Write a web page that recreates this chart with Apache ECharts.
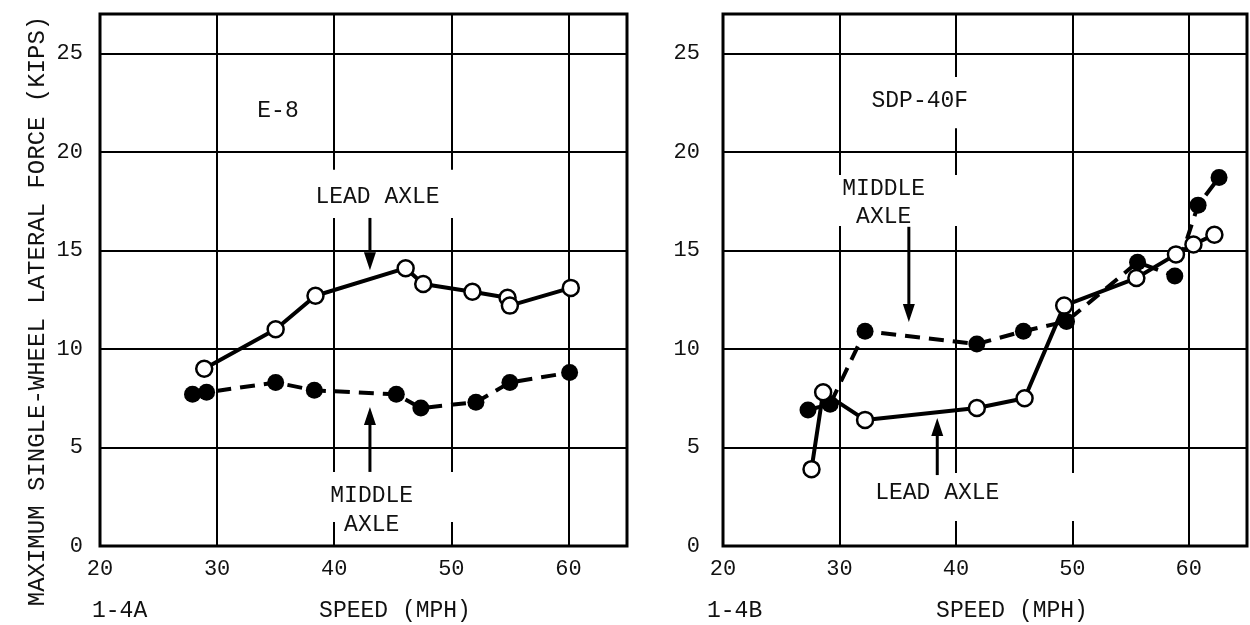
<!DOCTYPE html>
<html>
<head>
<meta charset="utf-8">
<style>
  html, body { margin: 0; padding: 0; background: #fff; }
  #chart { width: 1250px; height: 625px; }
</style>
<script src="https://cdn.jsdelivr.net/npm/echarts@6/dist/echarts.min.js"></script>
</head>
<body>
<div id="chart"></div>
<script>
// speed (mph), force (kips)
const e8Lead = [[28.9, 9.0], [35.0, 11.0], [38.4, 12.7], [46.1, 14.1], [47.6, 13.3], [51.8, 12.9], [54.8, 12.6], [55.0, 12.2], [60.2, 13.1]]
const e8Middle = [[27.9, 7.7], [29.1, 7.8], [35.0, 8.3], [38.3, 7.9], [45.3, 7.7], [47.4, 7.0], [52.1, 7.3], [55.0, 8.3], [60.1, 8.8]]
const sdpLead = [[27.6, 3.9], [28.6, 7.8], [32.2, 6.4], [41.8, 7.0], [45.9, 7.5], [49.3, 12.2], [55.5, 13.6], [58.9, 14.8], [60.4, 15.3], [62.2, 15.8]]
const sdpMiddle = [[27.3, 6.9], [29.2, 7.2], [32.2, 10.9], [41.8, 10.25], [45.8, 10.9], [49.5, 11.4], [55.6, 14.4], [58.8, 13.7], [60.8, 17.3], [62.6, 18.7]]

const speedTicks = [20, 65, 10]   // min, max, interval
const forceTicks = [0, 27, 5]

// notes in data units of each panel
const notesA = [
  { text: 'E-8', at: [35.2, 22.1] },
  { text: 'LEAD AXLE', at: [43.7, 17.7], box: [[38.0, 19.1], [50.8, 16.65]] },
  { text: 'MIDDLE', at: [43.2, 2.54], box: [[38.4, 3.76], [50.8, 1.22]] },
  { text: 'AXLE', at: [43.2, 1.07] },
]
const arrowsA = [
  { from: [43.05, 16.65], to: [43.05, 14.0] },
  { from: [43.05, 3.76], to: [43.05, 7.06] },
]
const notesB = [
  { text: 'SDP-40F', at: [36.9, 22.6], box: [[32.2, 23.8], [41.7, 21.2]] },
  { text: 'MIDDLE', at: [33.8, 18.1], box: [[29.1, 18.83], [40.6, 16.24]] },
  { text: 'AXLE', at: [33.8, 16.7] },
  { text: 'LEAD AXLE', at: [38.4, 2.69], box: [[31.9, 3.7], [50.9, 1.27]] },
]
const arrowsB = [
  { from: [35.96, 16.2], to: [35.96, 11.37] },
  { from: [38.4, 3.6], to: [38.4, 6.5] },
]

const FONT = 'Liberation Mono'
const chart = echarts.init(document.getElementById('chart'))

function xAxisOf(i) {
  return {
    type: 'value', gridIndex: i,
    min: speedTicks[0], max: speedTicks[1], interval: speedTicks[2],
    axisLine: { show: false }, axisTick: { show: false },
    axisLabel: { color: '#111', fontFamily: FONT, fontSize: 22, margin: 12, showMaxLabel: false },
    splitLine: { lineStyle: { color: '#000', width: 2 } },
  }
}
function yAxisOf(i, margin) {
  return {
    type: 'value', gridIndex: i,
    min: forceTicks[0], max: forceTicks[1], interval: forceTicks[2],
    axisLine: { show: false }, axisTick: { show: false },
    axisLabel: { color: '#111', fontFamily: FONT, fontSize: 22, margin: margin, showMaxLabel: false },
    splitLine: { lineStyle: { color: '#000', width: 2 } },
  }
}
function leadSeries(i, data) {
  return {
    type: 'line', xAxisIndex: i, yAxisIndex: i, data: data,
    symbol: 'circle', symbolSize: 16,
    lineStyle: { color: '#000', width: 4 },
    itemStyle: { color: '#fff', borderColor: '#000', borderWidth: 2.5 },
    z: 4,
  }
}
function middleSeries(i, data) {
  return {
    type: 'line', xAxisIndex: i, yAxisIndex: i, data: data,
    symbol: 'circle', symbolSize: 17,
    lineStyle: { color: '#000', width: 4, type: [15, 9] },
    itemStyle: { color: '#000' },
    z: 3,
  }
}

let option = {
  backgroundColor: '#fff',
  animation: false,
  grid: [
    { left: 100, right: 623, top: 14, bottom: 79, show: true, borderColor: '#000', borderWidth: 3 },
    { left: 723, right: 3, top: 14, bottom: 79, show: true, borderColor: '#000', borderWidth: 3 },
  ],
  xAxis: [xAxisOf(0), xAxisOf(1)],
  yAxis: [yAxisOf(0, 17), yAxisOf(1, 23)],
  series: [
    leadSeries(0, e8Lead), middleSeries(0, e8Middle),
    leadSeries(1, sdpLead), middleSeries(1, sdpMiddle),
  ],
}
chart.setOption(option)

// labels, white paste-up boxes and arrows placed from data coordinates
function notesGraphic(gi, notes, arrows) {
  const els = []
  const px = p => chart.convertToPixel({ gridIndex: gi }, p)
  notes.forEach(n => {
    if (n.box) {
      const a = px(n.box[0]), b = px(n.box[1])
      els.push({ type: 'rect', z: 20, shape: { x: a[0], y: a[1], width: b[0] - a[0], height: b[1] - a[1] }, style: { fill: '#fff' } })
    }
    const c = px(n.at)
    els.push({ type: 'text', z: 22, x: c[0], y: c[1], style: { text: n.text, fill: '#111', font: '23px "' + FONT + '"', align: 'center', verticalAlign: 'middle' } })
  })
  arrows.forEach(ar => {
    const f = px(ar.from), t = px(ar.to)
    const dir = t[1] > f[1] ? 1 : -1
    const headLen = 18, headW = 6
    els.push({ type: 'line', z: 22, shape: { x1: f[0], y1: f[1], x2: t[0], y2: t[1] - dir * headLen }, style: { stroke: '#000', lineWidth: 3 } })
    els.push({ type: 'polygon', z: 22, shape: { points: [[t[0], t[1]], [t[0] - headW, t[1] - dir * headLen], [t[0] + headW, t[1] - dir * headLen]] }, style: { fill: '#000' } })
  })
  return els
}

const pageText = [
  { type: 'text', x: 38, y: 311, rotation: Math.PI / 2, style: { text: 'MAXIMUM SINGLE-WHEEL LATERAL FORCE (KIPS)', fill: '#111', font: '24px "' + FONT + '"', align: 'center', verticalAlign: 'middle' } },
  { type: 'text', x: 92, y: 611, style: { text: '1-4A', fill: '#111', font: '23px "' + FONT + '"', align: 'left', verticalAlign: 'middle' } },
  { type: 'text', x: 395, y: 611, style: { text: 'SPEED (MPH)', fill: '#111', font: '23px "' + FONT + '"', align: 'center', verticalAlign: 'middle' } },
  { type: 'text', x: 707, y: 611, style: { text: '1-4B', fill: '#111', font: '23px "' + FONT + '"', align: 'left', verticalAlign: 'middle' } },
  { type: 'text', x: 1012, y: 611, style: { text: 'SPEED (MPH)', fill: '#111', font: '23px "' + FONT + '"', align: 'center', verticalAlign: 'middle' } },
]

chart.setOption({
  graphic: { elements: pageText.concat(notesGraphic(0, notesA, arrowsA), notesGraphic(1, notesB, arrowsB)) },
})
</script>
</body>
</html>
